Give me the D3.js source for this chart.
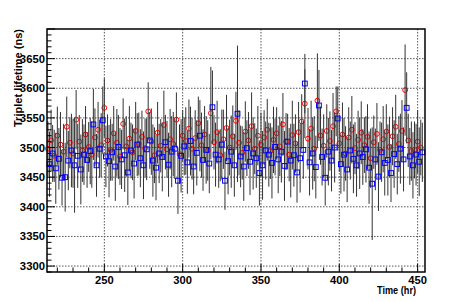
<!DOCTYPE html>
<html>
<head>
<meta charset="utf-8">
<script src="https://cdn.jsdelivr.net/npm/d3@7"></script>
<style>
  body { margin: 0; background: #fff; }
  text { font-family: "Liberation Sans", Arial, sans-serif; font-weight: bold; }
</style>
</head>
<body>
<div class="canvas"></div>
<script>
// time of each red run (hr)
const redTimes = [
  214, 216, 218, 220, 222, 224, 226, 228, 230, 232,
  234, 236, 238, 240, 242, 244, 246, 248, 250, 252,
  254, 256, 258, 260, 262, 264, 266, 268, 270, 272,
  274, 276, 278, 280, 282, 284, 286, 288, 290, 292,
  294, 296, 298, 300, 302, 304, 306, 308, 310, 312,
  314, 316, 318, 320, 322, 324, 326, 328, 330, 332,
  334, 336, 338, 340, 342, 344, 346, 348, 350, 352,
  354, 356, 358, 360, 362, 364, 366, 368, 370, 372,
  374, 376, 378, 380, 382, 384, 386, 388, 390, 392,
  394, 396, 398, 400, 402, 404, 406, 408, 410, 412,
  414, 416, 418, 420, 422, 424, 426, 428, 430, 432,
  434, 436, 438, 440, 442, 444, 446, 448, 450, 452
];
// time of each blue run (hr)
const blueTimes = [
  215, 217, 219, 221, 223, 225, 227, 229, 231, 233,
  235, 237, 239, 241, 243, 245, 247, 249, 251, 253,
  255, 257, 259, 261, 263, 265, 267, 269, 271, 273,
  275, 277, 279, 281, 283, 285, 287, 289, 291, 293,
  295, 297, 299, 301, 303, 305, 307, 309, 311, 313,
  315, 317, 319, 321, 323, 325, 327, 329, 331, 333,
  335, 337, 339, 341, 343, 345, 347, 349, 351, 353,
  355, 357, 359, 361, 363, 365, 367, 369, 371, 373,
  375, 377, 378, 381, 383, 385, 387, 389, 391, 393,
  395, 397, 399, 401, 403, 405, 407, 409, 411, 413,
  415, 417, 419, 421, 423, 425, 427, 429, 431, 433,
  435, 437, 439, 441, 443, 445, 447, 449, 451, 453
];

// red circles
const redVals = [
  3498, 3512, 3486, 3520, 3505, 3493, 3535, 3508, 3490, 3547,
  3510, 3495, 3522, 3501, 3488, 3517, 3530, 3504, 3567, 3512,
  3496, 3524, 3508, 3485, 3540, 3502, 3515, 3492, 3528, 3506,
  3518, 3499, 3561, 3510, 3487, 3525, 3503, 3538, 3497, 3514,
  3506, 3547, 3489, 3520, 3511, 3532, 3498, 3516, 3541, 3504,
  3522, 3495, 3558, 3509, 3526, 3487, 3514, 3533, 3500, 3519,
  3545, 3508, 3491, 3527, 3512, 3536, 3498, 3520, 3505, 3517,
  3530, 3494, 3513, 3524, 3502, 3539, 3510, 3488, 3521, 3507,
  3526, 3544, 3574, 3515, 3532, 3498, 3579, 3520, 3503, 3528,
  3511, 3536, 3561, 3507, 3522, 3490, 3517, 3530, 3499, 3513,
  3525, 3504, 3518, 3482, 3509, 3523, 3496, 3514, 3527, 3501,
  3519, 3535, 3506, 3528, 3597, 3512, 3494, 3496, 3510, 3500
];
const redErr = [
  46, 52, 44, 49, 55, 47, 51, 43, 58, 50,
  45, 53, 48, 42, 56, 49, 47, 54, 50, 44,
  52, 46, 57, 48, 43, 51, 55, 47, 49, 53,
  44, 50, 49, 56, 47, 52, 45, 58, 48, 51,
  54, 46, 50, 43, 57, 49, 52, 47, 45, 55,
  48, 51, 78, 46, 53, 44, 50, 56, 47, 52,
  49, 55, 45, 51, 48, 57, 43, 50, 54, 46,
  52, 47, 56, 44, 50, 53, 48, 45, 58, 49,
  51, 46, 58, 52, 47, 55, 80, 49, 53, 45,
  50, 56, 42, 48, 54, 46, 51, 57, 44, 49,
  53, 47, 55, 50, 45, 52, 48, 56, 46, 51,
  49, 54, 47, 52, 77, 45, 50, 48, 53, 47
];

// blue squares
const blueVals = [
  3472, 3490, 3465, 3481, 3449, 3450, 3478, 3495, 3470, 3486,
  3463, 3488, 3479, 3494, 3539, 3470, 3498, 3546, 3485, 3477,
  3492, 3468, 3501, 3480, 3487, 3458, 3495, 3473, 3505, 3482,
  3470, 3497, 3512, 3478, 3466, 3490, 3484, 3509, 3471, 3493,
  3498, 3444, 3486, 3502, 3475, 3511, 3468, 3491, 3520, 3479,
  3496, 3473, 3568, 3488, 3480, 3505, 3444, 3477, 3493, 3470,
  3557, 3485, 3468, 3499, 3476, 3490, 3482, 3457, 3470, 3495,
  3488, 3474, 3501, 3480, 3493, 3469, 3510, 3478, 3487, 3458,
  3482, 3496, 3608, 3475, 3490, 3467, 3571, 3484, 3449, 3493,
  3478, 3500, 3549, 3472, 3488, 3463, 3495, 3481, 3470, 3490,
  3484, 3497, 3466, 3439, 3480, 3451, 3492, 3474, 3479, 3457,
  3489, 3472, 3498, 3480, 3567, 3485, 3470, 3488, 3476, 3492
];
const blueErr = [
  55, 48, 60, 52, 47, 58, 50, 62, 80, 54,
  59, 51, 47, 56, 60, 53, 49, 57, 52, 61,
  48, 58, 54, 50, 62, 55, 47, 59, 53, 49,
  57, 52, 48, 61, 55, 50, 58, 46, 54, 60,
  51, 56, 62, 49, 53, 58, 47, 55, 60, 52,
  57, 50, 62, 54, 48, 59, 49, 56, 61, 53,
  115, 52, 58, 47, 56, 61, 50, 55, 58, 49,
  54, 60, 48, 57, 52, 59, 47, 62, 53, 51,
  58, 49, 50, 56, 61, 53, 60, 48, 47, 57,
  52, 59, 54, 50, 62, 55, 49, 58, 53, 60,
  47, 56, 61, 95, 52, 58, 50, 55, 60, 49,
  57, 51, 59, 54, 60, 48, 56, 52, 58, 50
];

const xTicks = [250, 300, 350, 400, 450];
const yTicks = [3300, 3350, 3400, 3450, 3500, 3550, 3600, 3650];

let width = 473, height = 302;
let fL = 47, fR = 425, fT = 29, fB = 272;

const svg = d3.select('.canvas')
    .append('svg')
    .attr('width', width)
    .attr('height', height)
    ;

const xScale = d3.scaleLinear()
    .domain([213.4, 454.7])
    .range([fL, fR])
    ;

const yScale = d3.scaleLinear()
    .domain([3290, 3700])
    .range([fB, fT])
    ;

// grid
svg.append('g')
    .selectAll('line')
    .data(xTicks)
    .enter()
    .append('line')
    .attr('x1', d => xScale(d)).attr('x2', d => xScale(d))
    .attr('y1', fT).attr('y2', fB)
    .attr('stroke', '#555')
    .attr('stroke-width', 1)
    .attr('stroke-dasharray', '1.5,1.5')
    ;
svg.append('g')
    .selectAll('line')
    .data(yTicks)
    .enter()
    .append('line')
    .attr('y1', d => yScale(d)).attr('y2', d => yScale(d))
    .attr('x1', fL).attr('x2', fR)
    .attr('stroke', '#555')
    .attr('stroke-width', 1)
    .attr('stroke-dasharray', '1.5,1.5')
    ;

// one graph: error bars then markers
let drawGraph = (ts, vals, errs, kind) => {
    const pts = ts.map((t, i) => ({ t: t, v: vals[i], e: errs[i] }));
    const g = svg.append('g');
    g.selectAll('line')
        .data(pts)
        .enter()
        .append('line')
        .attr('x1', d => xScale(d.t)).attr('x2', d => xScale(d.t))
        .attr('y1', d => yScale(d.v - d.e))
        .attr('y2', d => yScale(d.v + d.e))
        .attr('stroke', '#333')
        .attr('stroke-width', 1)
        ;
    if (kind === 'circle') {
        g.selectAll('circle')
            .data(pts)
            .enter()
            .append('circle')
            .attr('cx', d => xScale(d.t))
            .attr('cy', d => yScale(d.v))
            .attr('r', 2.4)
            .attr('fill', 'none')
            .attr('stroke', '#f00')
            .attr('stroke-width', 1)
            ;
    } else {
        g.selectAll('rect')
            .data(pts)
            .enter()
            .append('rect')
            .attr('x', d => xScale(d.t) - 2.4)
            .attr('y', d => yScale(d.v) - 2.4)
            .attr('width', 4.8)
            .attr('height', 4.8)
            .attr('fill', 'none')
            .attr('stroke', '#00f')
            .attr('stroke-width', 1)
            ;
    }
};

drawGraph(redTimes, redVals, redErr, 'circle');
drawGraph(blueTimes, blueVals, blueErr, 'square');

// frame
svg.append('rect')
    .attr('x', fL).attr('y', fT)
    .attr('width', fR - fL).attr('height', fB - fT)
    .attr('fill', 'none')
    .attr('stroke', '#000')
    .attr('stroke-width', 1.5)
    ;

// x ticks (inside, from the bottom)
const xMinor = d3.range(220, 455, 10);
svg.append('g')
    .selectAll('line')
    .data(xMinor)
    .enter()
    .append('line')
    .attr('x1', d => xScale(d)).attr('x2', d => xScale(d))
    .attr('y1', fB)
    .attr('y2', d => fB - (d % 50 === 0 ? 8 : 4.5))
    .attr('stroke', '#000')
    ;
svg.append('g')
    .selectAll('text')
    .data(xTicks)
    .enter()
    .append('text')
    .attr('x', d => xScale(d))
    .attr('y', 283.5)
    .attr('text-anchor', 'middle')
    .attr('font-size', 11.2)
    .text(d => d)
    ;

// y ticks (inside, from the left)
const yMinor = d3.range(3290, 3701, 10);
svg.append('g')
    .selectAll('line')
    .data(yMinor)
    .enter()
    .append('line')
    .attr('y1', d => yScale(d)).attr('y2', d => yScale(d))
    .attr('x1', fL)
    .attr('x2', d => fL + (d % 50 === 0 ? 8 : 4.5))
    .attr('stroke', '#000')
    ;
svg.append('g')
    .selectAll('text')
    .data(yTicks)
    .enter()
    .append('text')
    .attr('x', 45)
    .attr('y', d => yScale(d) + 4)
    .attr('text-anchor', 'end')
    .attr('font-size', 11.3)
    .text(d => d)
    ;

// titles
svg.append('text')
    .attr('transform', 'translate(21.5,29) rotate(-90)')
    .attr('text-anchor', 'end')
    .attr('font-size', 11.5)
    .attr('textLength', 98)
    .attr('lengthAdjust', 'spacingAndGlyphs')
    .text('Triplet lifetime (ns)')
    ;
svg.append('text')
    .attr('x', 416)
    .attr('y', 294)
    .attr('text-anchor', 'end')
    .attr('font-size', 11)
    .attr('textLength', 39)
    .attr('lengthAdjust', 'spacingAndGlyphs')
    .text('Time (hr)')
    ;
</script>
</body>
</html>
